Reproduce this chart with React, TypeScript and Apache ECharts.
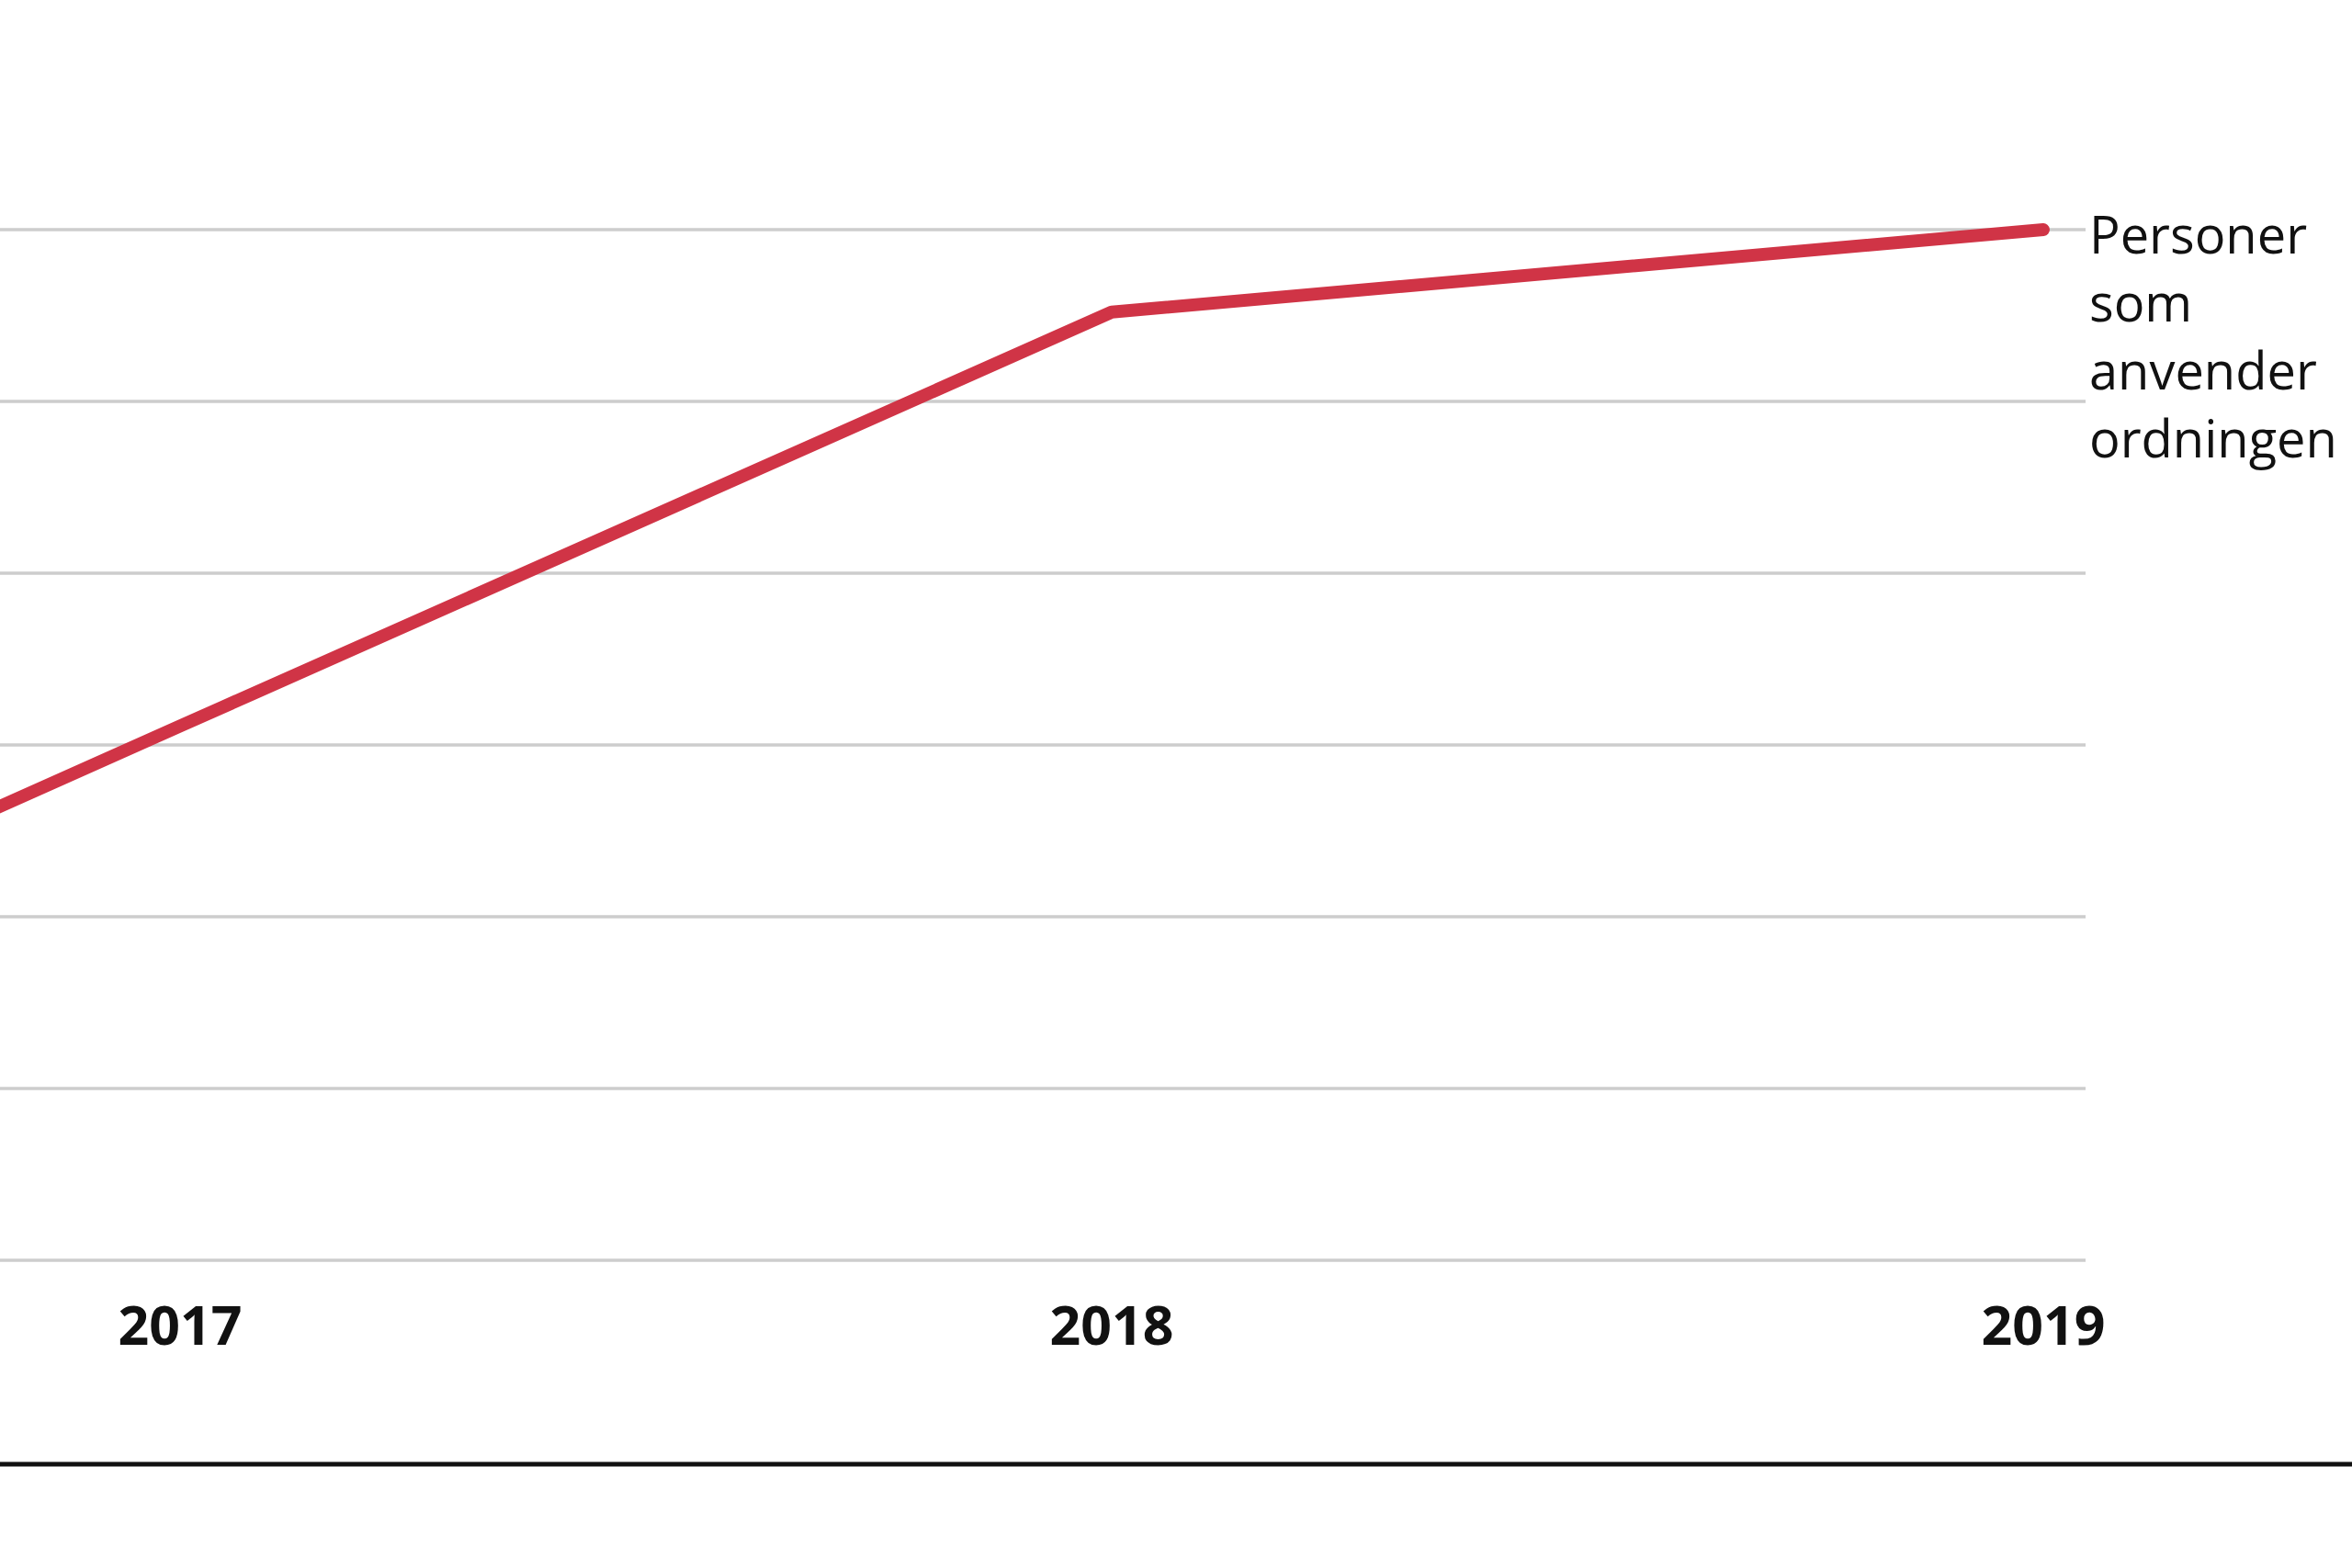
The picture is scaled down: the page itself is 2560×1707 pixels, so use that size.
import React, { useEffect, useRef } from "react";
import * as echarts from "echarts";

// Data (y-axis units = gridline steps, labels hidden in original)
const years: number[] = [2016, 2017, 2018, 2019];
const users: number[] = [0.69, 3.11, 5.52, 6.0];
const yearLabels: number[] = [2017, 2018, 2019];
const seriesName = "Personer\nsom\nanvender\nordningen";

const W = 2560;
const H = 1707;

export default function App() {
  const ref = useRef<HTMLDivElement>(null);

  useEffect(() => {
    if (!ref.current) return;
    const chart = echarts.init(ref.current, undefined, { renderer: "svg", width: W, height: H });
    const data = years.map((y, i) => [y, users[i]]);
    chart.setOption({
      animation: false,
      backgroundColor: "#ffffff",
      grid: { left: 0, right: 290, top: 250, bottom: 335, containLabel: false },
      xAxis: {
        type: "value",
        min: 2016.8067,
        max: 2019.0454,
        axisLine: { show: false },
        axisTick: { show: false },
        splitLine: { show: false },
        axisLabel: {
          customValues: yearLabels,
          formatter: (v: number) => String(v),
          fontFamily: "Open Sans",
          fontWeight: "bold",
          fontSize: 59,
          color: "#111111",
          margin: 39,
        },
      },
      yAxis: {
        type: "value",
        min: 0,
        max: 6,
        interval: 1,
        axisLine: { show: false },
        axisTick: { show: false },
        axisLabel: { show: false },
        splitLine: { show: true, lineStyle: { color: "#cdcdcd", width: 3.5 } },
      },
      series: [
        {
          name: seriesName,
          type: "line",
          data,
          symbol: "none",
          clip: true,
          lineStyle: { color: "#d03446", width: 14, cap: "round", join: "round" },
          endLabel: {
            show: true,
            formatter: seriesName,
            fontFamily: "Open Sans",
            fontSize: 56,
            lineHeight: 74,
            color: "#111111",
            distance: 50,
            verticalAlign: "top",
            align: "left",
            offset: [0, -33],
          },
        },
      ],
      graphic: [
        {
          type: "line",
          shape: { x1: 0, y1: 1594, x2: W, y2: 1594 },
          style: { stroke: "#111111", lineWidth: 5 },
          silent: true,
        },
      ],
    });
    return () => chart.dispose();
  }, []);

  return (
    <div
      ref={ref}
      style={{ position: "fixed", left: 0, top: 0, width: W + "px", height: H + "px", background: "#ffffff" }}
    />
  );
}
